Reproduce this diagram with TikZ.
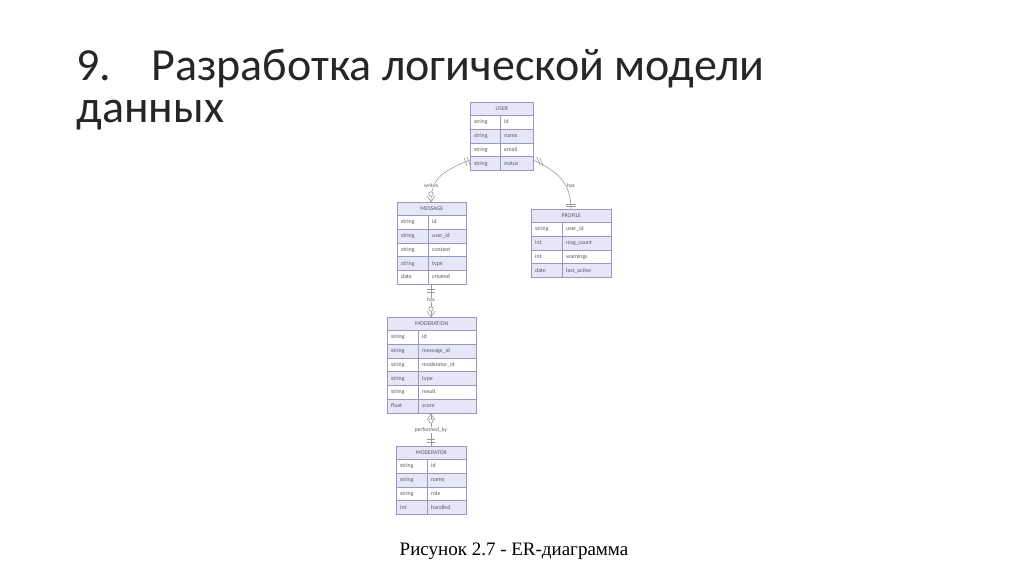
\documentclass[tikz,border=0pt]{standalone}
\usepackage{fontspec}
\setmainfont{Carlito}
\newfontfamily\capfont{Liberation Serif}
\definecolor{erline}{HTML}{9A97C4}
\definecolor{erfill}{HTML}{E6E6F7}
\definecolor{ertext}{HTML}{555566}
\usetikzlibrary{calc}
\newcommand\ertab[7]{%
  % #1 name, #2 x, #3 y, #4 width, #5 split, #6 title, #7 rows type/name
  \node[tabbox, minimum width=#4pt, minimum height=13pt, anchor=north west, fill=erfill] (#1-h) at (#2,#3) {};
  \node[cell, anchor=center] at (#1-h.center) {#6};
  \foreach \t/\n [count=\i] in {#7} {
    \pgfmathsetmacro\yy{#3+13+(\i-1)*13.8}
    \pgfmathtruncatemacro\ev{mod(\i,2)}
    \ifnum\ev=0 \def\ff{erfill}\else\def\ff{white}\fi
    \node[tabbox, fill=\ff, minimum width=#4pt, minimum height=13.8pt, anchor=north west] (#1-\i) at (#2,\yy) {};
    \draw[erline, line width=0.5pt] (#2+#5,\yy) -- ++(0,13.8);
    \node[cell, anchor=west] at ($(#1-\i.west)+(4,0)$) {\t};
    \node[cell, anchor=west] at ($(#1-\i.west)+(#5+4,0)$) {\n};
  }
}
\tikzset{
  x=1pt, y=-1pt,
  tabbox/.style={draw=erline, line width=0.6pt, inner sep=0pt},
  cell/.style={font=\fontsize{5.8}{6}\selectfont, text=ertext, inner sep=0pt, text height=4pt, text depth=1pt},
  rel/.style={draw=gray!80, line width=0.6pt},
  rlabel/.style={font=\fontsize{5.5}{6}\selectfont, text=ertext, fill=white, inner sep=0.5pt}
}
\begin{document}
\begin{tikzpicture}
\useasboundingbox (0,0) rectangle (1024,574);
\node[anchor=base west, font=\fontsize{46}{48}\selectfont, text=black!85] (t1) at (73,80) {9.\hspace{40pt}Разработка логической модели};
\node[anchor=base west, font=\fontsize{46}{48}\selectfont, text=black!85] (t2) at (73,122) {данных};
\node[font=\capfont\fontsize{19}{20}\selectfont] (cap) at (514,551) {Рисунок 2.7 - ER-диаграмма};

\ertab{user}{470}{102}{63}{30}{USER}{string/id,string/name,string/email,string/status}
\ertab{msg}{397}{202}{69}{31}{MESSAGE}{string/id,string/user\_id,string/content,string/type,date/created}
\ertab{prof}{531}{209}{80}{31}{PROFILE}{string/user\_id,int/msg\_count,int/warnings,date/last\_active}
\ertab{mod}{387}{317}{89}{31}{MODERATION}{string/id,string/message\_id,string/moderator\_id,string/type,string/result,float/score}
\ertab{mdr}{396}{446}{70}{31}{MODERATOR}{string/id,string/name,string/role,int/handled}

\coordinate (u1) at (470,160);
\coordinate (u2) at (533,160);
\coordinate (m1) at (431,202);
\coordinate (p1) at (571,209);
\coordinate (mb) at (431,285);
\coordinate (mt) at (431,317);
\coordinate (ob) at (431,414);
\coordinate (ot) at (431,446);

\draw[rel] (u1) .. controls (440,172) and (431,180) .. (m1);
\draw[rel] (u2) .. controls (560,172) and (571,185) .. (p1);
\draw[rel] (mb) -- (mt);
\draw[rel] (ob) -- (ot);
\node[rlabel] (l1) at (431,186) {writes};
\node[rlabel] (l2) at (571,186) {has};
\node[rlabel] (l3) at (431,300) {has};
\node[rlabel] (l4) at (431,430) {performed\_by};

% markers
\draw[rel] (464,158) -- (467,166) (467,157) -- (470,165);
\draw[rel] (537,157) -- (540,165) (540,158) -- (543,166);
\draw[rel] (m1) -- (427,196) (m1) -- (435,196);
\draw[rel,fill=white] (431,194) circle (2.2);
\draw[rel] (566,204) -- (576,204) (566,206) -- (576,206);
\draw[rel] (427,289) -- (435,289) (427,292) -- (435,292);
\draw[rel] (mt) -- (427,311) (mt) -- (435,311);
\draw[rel,fill=white] (431,309) circle (2.2);
\draw[rel] (ob) -- (427,420) (ob) -- (435,420);
\draw[rel,fill=white] (431,421) circle (2.2);
\draw[rel] (427,439) -- (435,439) (427,442) -- (435,442);
\end{tikzpicture}
\end{document}
